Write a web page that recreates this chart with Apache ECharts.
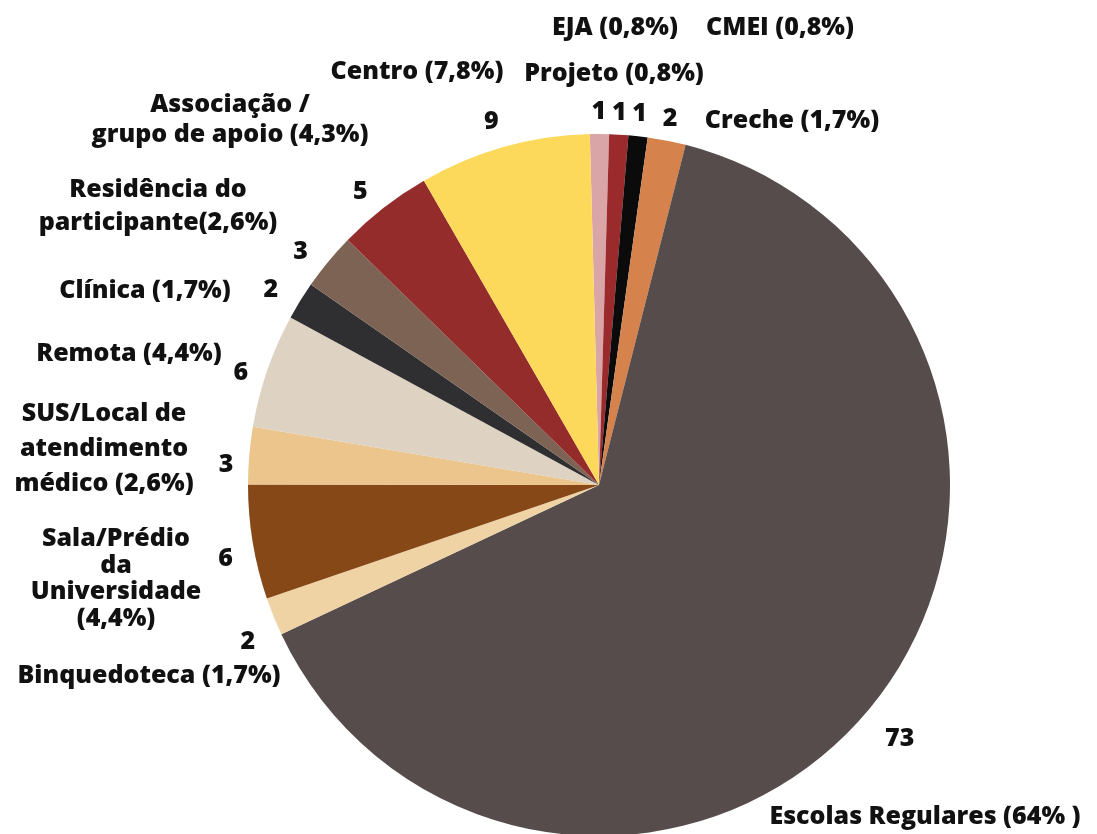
<!DOCTYPE html>
<html>
<head>
<meta charset="utf-8">
<script src="https://cdn.jsdelivr.net/npm/echarts@6/dist/echarts.min.js"></script>
<style>
html,body{margin:0;padding:0;background:#fff;}
#chart{width:1097px;height:834px;}
</style>
</head>
<body>
<div id="chart"></div>
<script>
// Categories in clockwise order starting just left of 12 o'clock
var categories = ['EJA', 'Projeto', 'CMEI', 'Creche', 'Escolas Regulares', 'Binquedoteca',
  'Sala/Prédio da Universidade', 'SUS/Local de atendimento médico', 'Remota', 'Clínica',
  'Residência do participante', 'Associação / grupo de apoio', 'Centro'];
var values = [1, 1, 1, 2, 73, 2, 6, 3, 6, 2, 3, 5, 9];
var nameLabels = ['EJA (0,8%)', 'Projeto (0,8%)', 'CMEI (0,8%)', 'Creche (1,7%)',
  'Escolas Regulares (64% )', 'Binquedoteca (1,7%)', 'Sala/Prédio\nda\nUniversidade\n(4,4%)',
  'SUS/Local de\natendimento\nmédico (2,6%)', 'Remota (4,4%)', 'Clínica (1,7%)',
  'Residência do\nparticipante(2,6%)', 'Associação /\ngrupo de apoio (4,3%)', 'Centro (7,8%)'];

// styling / layout (kept separate from data)
var colors = ['#d9a5a7', '#9a2a2c', '#0b0b0b', '#d5824c', '#554c4b', '#f0d3a5', '#874818',
  '#ebc58c', '#ded3c3', '#2f2e30', '#7d6353', '#952c2c', '#fdd95b'];
var namePos = [[615, 28], [614, 74], [780, 28], [792, 121], [925, 817], [149, 676], [116, 579],
  [104, 449], [129, 354], [145, 291], [158, 206], [230, 120], [417, 72]];
var nameLineHeight = [30, 30, 30, 30, 30, 30, 26.5, 35, 30, 30, 33, 30, 30];
// small nudges of the value labels from their default outside position
var valueNudge = [[-8, -2], [-8, -2], [-8, -2], [-8, -2], [0, 18], [0, 18], [0, 13],
  [4, 11], [0, 9], [-5, 0], [-5, 3], [-4, 0], [0, -6]];

var FONT = "'Open Sans', 'Noto Sans', sans-serif";
var CENTER = [599, 485];
var RADIUS = 351;

var pieData = categories.map(function (c, i) {
  return { name: c, value: values[i], itemStyle: { color: colors[i] } };
});
var nameData = categories.map(function (c, i) {
  return { name: c, value: values[i], label: { lineHeight: nameLineHeight[i] } };
});

var chart = echarts.init(document.getElementById('chart'), null, { renderer: 'canvas' });
chart.setOption({
  backgroundColor: '#ffffff',
  animation: false,
  series: [
    {
      type: 'pie',
      center: CENTER,
      radius: RADIUS,
      startAngle: 91.5,
      clockwise: true,
      avoidLabelOverlap: false,
      silent: true,
      data: pieData,
      itemStyle: { borderWidth: 0 },
      label: {
        show: true,
        position: 'outside',
        formatter: '{c}',
        color: '#111',
        fontFamily: FONT,
        fontWeight: 800,
        fontSize: 25,
        distanceToLabelLine: 0,
        overflow: 'none',
        padding: [10, 0, 0, 0]
      },
      labelLine: { show: false, length: 20, length2: 0 },
      labelLayout: function (p) {
        var n = valueNudge[p.dataIndex];
        return { dx: n[0], dy: n[1] };
      }
    },
    {
      type: 'pie',
      center: CENTER,
      radius: RADIUS,
      startAngle: 91.5,
      clockwise: true,
      avoidLabelOverlap: false,
      silent: true,
      z: 1,
      data: nameData,
      itemStyle: { color: 'rgba(0,0,0,0)', borderWidth: 0 },
      label: {
        show: true,
        position: 'outside',
        formatter: function (p) { return nameLabels[p.dataIndex]; },
        color: '#111',
        fontFamily: FONT,
        fontWeight: 800,
        fontSize: 25,
        overflow: 'none',
        align: 'center'
      },
      labelLine: { show: false },
      labelLayout: function (p) {
        var pos = namePos[p.dataIndex];
        return { x: pos[0], y: pos[1], align: 'center', verticalAlign: 'middle' };
      }
    }
  ]
});
</script>
</body>
</html>
